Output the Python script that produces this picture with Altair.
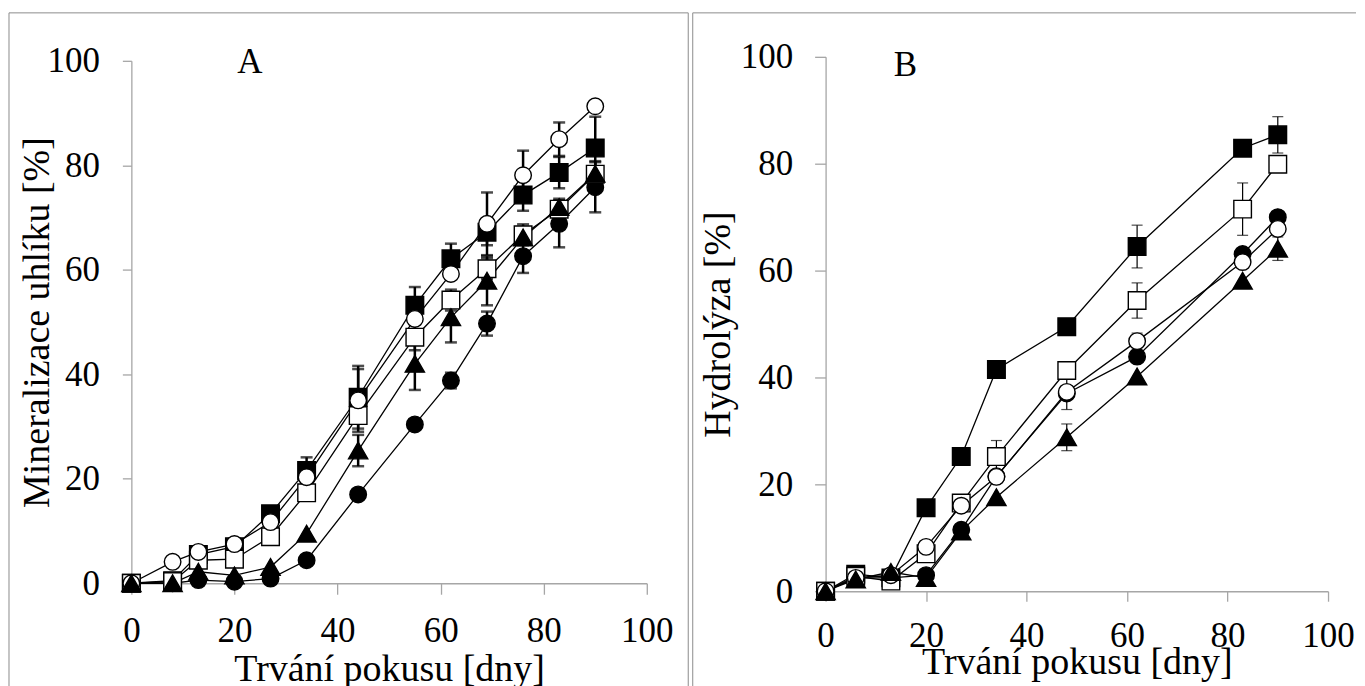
import altair as alt
import pandas as pd

FONT = "Liberation Serif"
TICKS = [0, 20, 40, 60, 80, 100]
X_TITLE = "Trvání pokusu [dny]"

# ---------------- Panel A : Mineralizace uhlíku ----------------
days_a = [0, 8, 13, 20, 27, 34, 44, 55, 62, 69, 76, 83, 90]
a_fsq = [0, 0.5, 5.5, 7.0, 13.3, 21.6, 35.6, 53.2, 62.1, 67.2, 74.3, 78.6, 83.3]
a_osq = [0, 0.3, 4.4, 4.6, 8.9, 17.3, 32.1, 47.1, 54.2, 60.2, 66.7, 71.6, 78.3]
a_fcir = [0, 0, 0.6, 0.3, 0.9, 4.4, 17.0, 30.4, 38.8, 49.7, 62.6, 68.8, 75.8]
a_ocir = [0, 4.1, 6.0, 7.5, 11.7, 20.3, 35.0, 50.6, 59.2, 68.8, 78.1, 85.0, 91.3]
a_tri = [0, 0, 2.2, 1.5, 3.1, 9.5, 25.4, 42.0, 50.9, 57.9, 66.2, 72.0, 78.4]
a_fsq_err = [0, 0, 0, 0, 1.2, 2.5, 6.0, 3.5, 2.9, 2.5, 3.0, 3.0, 6.0]
a_osq_err = [0, 0, 0, 0, 0, 0, 0, 2.5, 2.0, 2.0, 2.0, 2.0, 2.5]
a_fcir_err = [0, 0, 0, 0, 0, 0, 0, 0, 1.5, 2.3, 3.2, 4.5, 4.8]
a_ocir_err = [0, 0, 0, 0, 0, 0, 6.0, 0, 0, 6.0, 4.7, 3.2, 0]
a_tri_err = [0, 0, 0, 0, 0, 0, 3.0, 5.0, 4.8, 4.7, 0, 0, 0]
a_title = "Mineralizace uhlíku [%]"
a_label = ["A"]
a_label_x = [23]
a_label_y = [97.7]

# ---------------- Panel B : Hydrolýza ----------------
days_b = [0, 6, 13, 20, 27, 34, 48, 62, 83, 90]
b_fsq = [0, 3.2, 2.5, 15.6, 25.2, 41.5, 49.5, 64.5, 82.9, 85.4]
b_osq = [0, 2.8, 1.9, 7.0, 16.5, 25.2, 41.3, 54.4, 71.5, 79.9]
b_fcir = [0, 2.5, 2.5, 3.0, 11.5, 21.5, 37.0, 43.9, 63.1, 70.0]
b_ocir = [0, 2.5, 3.0, 8.3, 16.0, 21.4, 37.3, 46.8, 61.6, 67.8]
b_tri = [0, 2.2, 3.6, 2.5, 11.2, 17.6, 28.8, 40.2, 58.1, 64.1]
b_fsq_err = [0, 0, 0, 0, 0, 0, 0, 4.0, 0, 3.4]
b_osq_err = [0, 0, 0, 0, 0, 3.0, 0, 3.3, 4.9, 0]
b_fcir_err = [0, 0, 0, 0, 0, 0, 0, 0, 0, 0]
b_ocir_err = [0, 0, 0, 0, 0, 0, 3.3, 1.5, 0, 0]
b_tri_err = [0, 0, 0, 0, 0, 0, 2.5, 0, 0, 2.2]
b_title = "Hydrolýza [%]"
b_label = ["B"]
b_label_x = [15.9]
b_label_y = [96.4]

# marker styles: (name, shape, fill, size)
STYLES = [
    ("fsq", "square", "black", 310),
    ("fcir", "circle", "black", 275),
    ("osq", "square", "white", 310),
    ("ocir", "circle", "white", 275),
    ("tri", "triangle-up", "black", 370),
]

LABEL_SIZE = 35
TITLE_SIZE = 38


def build(days, series):
    rows = []
    for name, vals, errs in series:
        for d, v, e in zip(days, vals, errs):
            rows.append(dict(day=d, value=v, err=e, lo=v - e, hi=v + e, series=name))
    return pd.DataFrame(rows)


def one_row():
    return pd.DataFrame({"k": [0]})


def panel(df, width, height, ytop, ytitle, labels, lab_x, lab_y, geo):
    xscale = alt.Scale(domain=[0, 100], nice=False, zero=True)
    yscale = alt.Scale(domain=[0, 100], nice=False, zero=True, range=[height, ytop])
    xaxis = alt.Axis(
        values=TICKS, title=X_TITLE, grid=False, labelFlush=False, labelOverlap=False,
        labelFont=FONT, titleFont=FONT, labelFontSize=LABEL_SIZE, titleFontSize=TITLE_SIZE,
        labelColor="black", titleColor="black", titleFontWeight="normal",
        tickSize=geo["xtick"], labelPadding=geo["xpad"],
        titleX=width / 2, titleY=geo["xtitle_y"], titleBaseline="alphabetic",
        titleAlign="center",
    )
    yaxis = alt.Axis(
        values=TICKS, title=ytitle, grid=False, labelFlush=False, labelOverlap=False,
        labelFont=FONT, titleFont=FONT, labelFontSize=LABEL_SIZE, titleFontSize=TITLE_SIZE,
        labelColor="black", titleColor="black", titleFontWeight="normal",
        tickSize=geo["ytick"], labelPadding=geo["ypad"],
        titleX=geo["ytitle_x"], titleY=(height + ytop) / 2, titleAngle=270,
        titleBaseline="alphabetic", titleAlign="center",
    )
    xenc = alt.X("day:Q", scale=xscale, axis=xaxis)
    yenc = alt.Y("value:Q", scale=yscale, axis=yaxis)
    fx1, fx2, fy1, fy2 = geo["frame"]
    gray = "#8c8c8c"
    layers = []
    # panel frame
    layers.append(alt.Chart(one_row()).mark_rule(color=gray, strokeWidth=1).encode(
        x=alt.value(fx1), x2=alt.value(fx2), y=alt.value(fy1)))
    layers.append(alt.Chart(one_row()).mark_rule(color=gray, strokeWidth=1).encode(
        x=alt.value(fx1), y=alt.value(fy1), y2=alt.value(fy2)))
    if geo["right_edge"]:
        layers.append(alt.Chart(one_row()).mark_rule(color=gray, strokeWidth=1).encode(
            x=alt.value(fx2), y=alt.value(fy1), y2=alt.value(fy2)))
    # lines
    layers.append(alt.Chart(df).mark_line(color="black", strokeWidth=1.3).encode(
        x=xenc, y=yenc, detail="series:N", order="day:Q"))
    # error bars
    edf = df[df["err"] > 0]
    layers.append(alt.Chart(edf).mark_rule(color="black", strokeWidth=geo["ew"]).encode(
        x=xenc, y=alt.Y("lo:Q", scale=yscale, axis=yaxis), y2="hi:Q"))
    for col in ["lo", "hi"]:
        layers.append(alt.Chart(edf).mark_tick(
            color="black", orient="horizontal", size=geo["cap"], thickness=geo["ew"]).encode(
            x=xenc, y=alt.Y(f"{col}:Q", scale=yscale, axis=yaxis)))
    # markers
    for name, shape, fill, size in STYLES:
        layers.append(alt.Chart(df[df["series"] == name]).mark_point(
            shape=shape, filled=True, fill=fill, stroke="black", strokeWidth=1.4,
            size=size, opacity=1).encode(x=xenc, y=yenc))
    # panel letter
    ldf = pd.DataFrame({"day": lab_x, "value": lab_y, "t": labels})
    layers.append(alt.Chart(ldf).mark_text(
        font=FONT, fontSize=LABEL_SIZE, color="black", align="center", baseline="alphabetic").encode(
        x=xenc, y=yenc, text="t:N"))
    return alt.layer(*layers).properties(width=width, height=height)


df_a = build(days_a, [("fsq", a_fsq, a_fsq_err), ("osq", a_osq, a_osq_err),
                      ("fcir", a_fcir, a_fcir_err), ("ocir", a_ocir, a_ocir_err),
                      ("tri", a_tri, a_tri_err)])
df_b = build(days_b, [("fsq", b_fsq, b_fsq_err), ("osq", b_osq, b_osq_err),
                      ("fcir", b_fcir, b_fcir_err), ("ocir", b_ocir, b_ocir_err),
                      ("tri", b_tri, b_tri_err)])

# both panels share a top at page y=56; left plot spans 60..583, right 56..591
geo_a = dict(xtick=11, xpad=19, xtitle_y=97, ytick=9, ypad=23, ytitle_x=-83,
             frame=(-122.5, 557.5, -44, 630), right_edge=True, ew=2.5, cap=12)
geo_b = dict(xtick=10, xpad=17, xtitle_y=82, ytick=11, ypad=22, ytitle_x=-96,
             frame=(-133, 531, -44, 630), right_edge=False, ew=1.2, cap=11)

left = panel(df_a, 516, 527, 4, a_title, a_label, a_label_x, a_label_y, geo_a)
right = panel(df_b, 503, 535, 0, b_title, b_label, b_label_x, b_label_y, geo_b)

chart = alt.hconcat(left, right, spacing=3).properties(
    padding={"left": 0.5, "top": 3.5, "right": 0, "bottom": 0}
).configure_view(stroke=None).configure_axis(
    labelFont=FONT, titleFont=FONT, labelFontSize=LABEL_SIZE, titleFontSize=TITLE_SIZE,
    labelColor="black", titleColor="black", titleFontWeight="normal",
    domainColor="#a6a6a6", tickColor="#a6a6a6", domainWidth=1.3, tickWidth=1.3,
)

chart.save("out.html", embed_options={"renderer": "svg", "actions": False})
